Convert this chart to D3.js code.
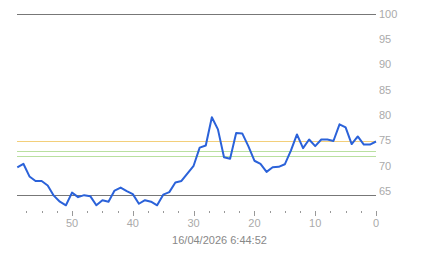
<!DOCTYPE html>
<html>
<head>
<meta charset="utf-8">
<script src="https://cdn.jsdelivr.net/npm/d3@7"></script>
<style>
  body { margin: 0; background: #fff; }
  svg { display: block; }
</style>
</head>
<body>
<div id="chart"></div>
<script>
// minutes ago, from 59 down to 0
const ago = d3.range(59, -1, -1);
const values = [
  69.7, 70.4, 67.9, 67.0, 67.0, 66.1, 64.1, 62.9, 62.2, 64.7,
  63.8, 64.2, 64.0, 62.2, 63.2, 62.9, 65.1, 65.7, 65.0, 64.4,
  62.5, 63.2, 62.9, 62.2, 64.3, 64.8, 66.7, 67.0, 68.5, 70.0,
  73.6, 74.0, 79.6, 77.2, 71.7, 71.4, 76.5, 76.4, 73.9, 71.0,
  70.4, 68.8, 69.7, 69.8, 70.3, 73.0, 76.2, 73.5, 75.2, 73.9,
  75.2, 75.2, 74.9, 78.2, 77.6, 74.3, 75.8, 74.2, 74.2, 74.8
];
const yTicks = [65, 70, 75, 80, 85, 90, 95, 100];
const xTicks = [0, 10, 20, 30, 40, 50];
const refLines = [
  {v: 100, color: '#777777'},
  {v: 64.3, color: '#777777'},
  {v: 75, color: '#f3cf7a'},
  {v: 73, color: '#b9e0a0'},
  {v: 72, color: '#b9e0a0'}
];
const stamp = '16/04/2026 6:44:52';

const width = 443, height = 258;
const svg = d3.select('#chart').append('svg')
    .attr('width', width)
    .attr('height', height)
    .attr('font-family', 'Liberation Sans, Arial, sans-serif')
    .attr('font-size', 11);

const x = d3.scaleLinear().domain([59, 0]).range([17.3, 376]);
const y = d3.scaleLinear().domain([75, 100]).range([140.5, 14]);

// reference lines
svg.selectAll('.ref')
  .data(refLines)
  .join('line')
    .attr('class', 'ref')
    .attr('x1', 17).attr('x2', 376)
    .attr('y1', d => Math.round(y(d.v)) + 0.5)
    .attr('y2', d => Math.round(y(d.v)) + 0.5)
    .attr('stroke', d => d.color)
    .attr('stroke-width', 1);

// y labels on the right
svg.selectAll('.ylab')
  .data(yTicks)
  .join('text')
    .attr('class', 'ylab')
    .attr('x', 379)
    .attr('y', d => y(d))
    .attr('dy', '0.35em')
    .attr('fill', '#aaaaaa')
    .text(d => d);

// x ticks
const minor = d3.range(0, 60, 2.5).filter(d => d % 10 !== 0);
svg.selectAll('.minor')
  .data(minor)
  .join('line')
    .attr('class', 'minor')
    .attr('x1', d => Math.round(x(d)) + 0.5).attr('x2', d => Math.round(x(d)) + 0.5)
    .attr('y1', 211).attr('y2', 213)
    .attr('stroke', '#999');

svg.selectAll('.major')
  .data(xTicks)
  .join('line')
    .attr('class', 'major')
    .attr('x1', d => Math.round(x(d)) + 0.5).attr('x2', d => Math.round(x(d)) + 0.5)
    .attr('y1', 211).attr('y2', 216)
    .attr('stroke', '#999');

svg.selectAll('.xlab')
  .data(xTicks)
  .join('text')
    .attr('class', 'xlab')
    .attr('x', d => x(d))
    .attr('y', 223)
    .attr('dy', '0.35em')
    .attr('text-anchor', 'middle')
    .attr('fill', '#aaaaaa')
    .text(d => d);

svg.append('text')
    .attr('x', 219.5)
    .attr('y', 240.5)
    .attr('dy', '0.35em')
    .attr('text-anchor', 'middle')
    .attr('fill', '#888888')
    .text(stamp);

// the series
const line = d3.line()
    .x((d, i) => x(ago[i]))
    .y(d => y(d));

svg.append('path')
    .datum(values)
    .attr('d', line)
    .attr('fill', 'none')
    .attr('stroke', '#2b62d9')
    .attr('stroke-width', 2)
    .attr('stroke-linejoin', 'round');
</script>
</body>
</html>
